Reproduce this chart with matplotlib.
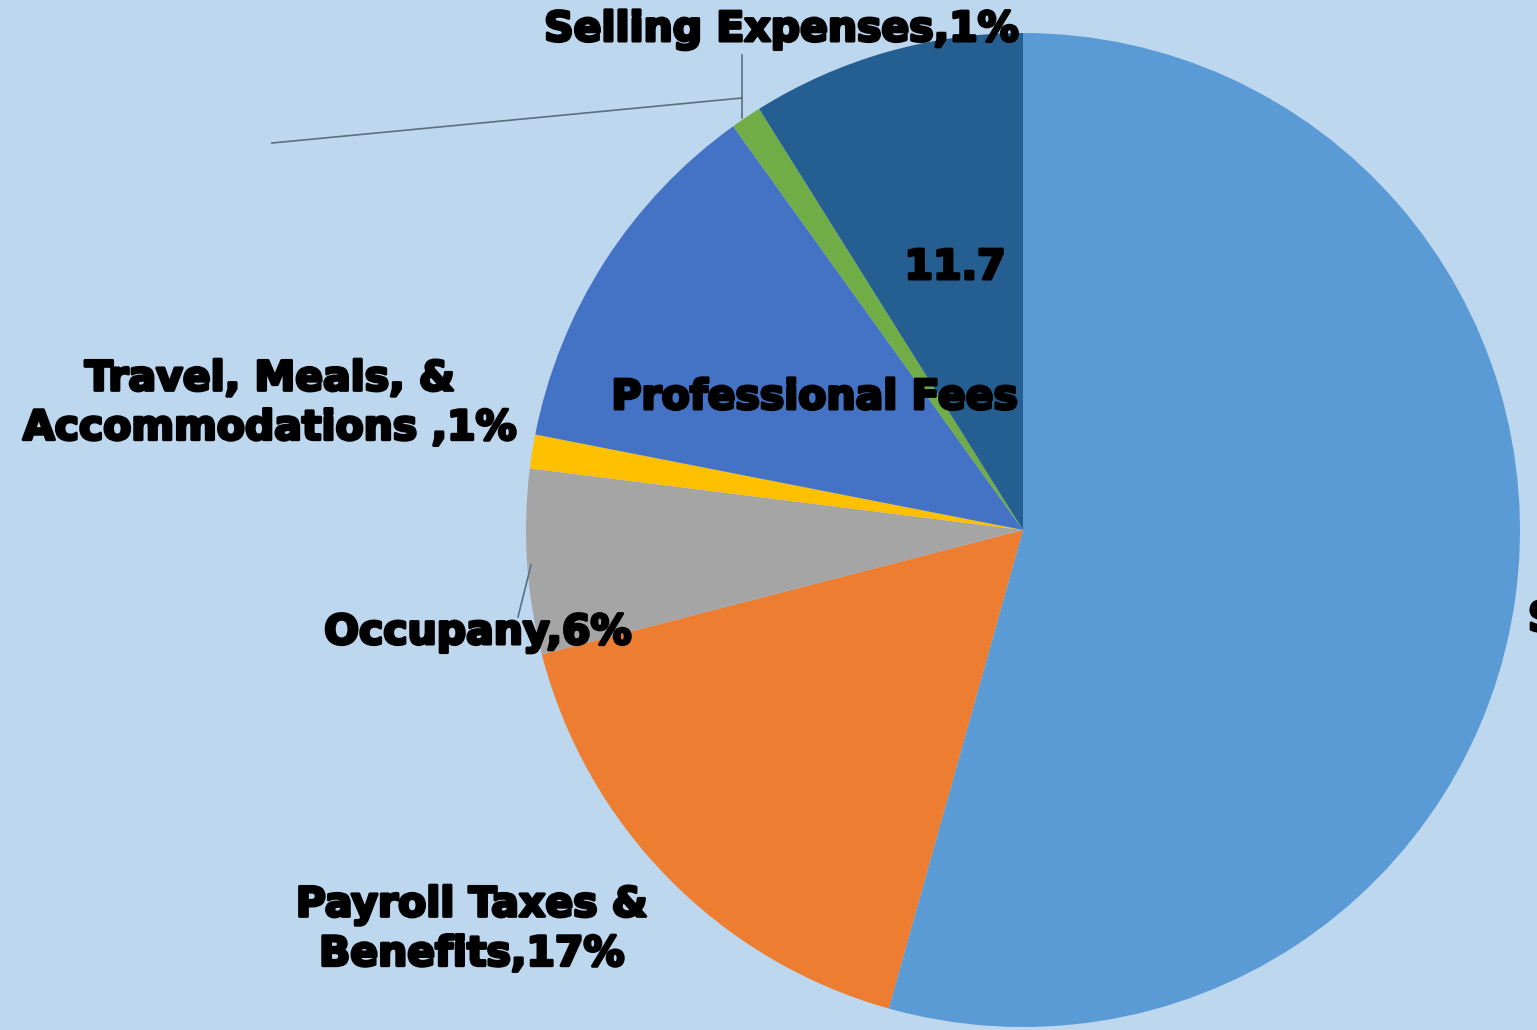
import matplotlib.pyplot as plt
import matplotlib.patheffects as pe

# Datos del gráfico (porcentaje de gastos)
categorias = ['Salaries', 'Payroll Taxes & Benefits', 'Occupany',
              'Travel, Meals, & Accommodations', 'Professional Fees',
              'Selling Expenses', 'Other']
valores = [54.3, 16.6, 6.0, 1.1, 12.0, 1.0, 8.9]
colores = ['#5B9BD5', '#ED7D31', '#A5A5A5', '#FFC000', '#4472C4', '#70AD47', '#255E91']

fondo = '#BDD7EE'

fig = plt.figure(figsize=(15.37, 10.3), dpi=100, facecolor=fondo)
ax = fig.add_axes([0, 0, 1, 1])
ax.set_facecolor(fondo)

ax.pie(valores, colors=colores, startangle=90, counterclock=False,
       center=(1023, 500), radius=497, frame=True,
       wedgeprops=dict(linewidth=0))
ax.set_xlim(0, 1537)
ax.set_ylim(0, 1030)
ax.axis('off')

grueso = [pe.withStroke(linewidth=2.2, foreground='black')]
estilo = dict(fontsize=29.5, fontweight='heavy', color='black',
              family='DejaVu Sans', ha='center', va='center',
              path_effects=grueso)

# Etiquetas
ax.text(782, 1000, 'Selling Expenses,1%', **estilo)
ax.text(955, 762, '11.7', **estilo)
ax.text(815, 632, 'Professional Fees', **estilo)
ax.text(270, 626, 'Travel, Meals, &\nAccommodations ,1%', linespacing=1.3, **estilo)
ax.text(478, 397, 'Occupany,6%', **estilo)
ax.text(472, 100, 'Payroll Taxes &\nBenefits,17%', linespacing=1.3, **estilo)
ax.text(1528, 410, 'Salaries,54%', fontsize=29.5, fontweight='heavy',
        family='DejaVu Sans', ha='left', va='center', clip_on=False,
        path_effects=grueso)

# Líneas guía
ax.plot([742, 742], [912, 975], color='#5a6f80', linewidth=1.2)
ax.plot([742, 272], [932, 887], color='#5a6f80', linewidth=1.2)
ax.plot([531, 518], [465, 413], color='#5a6f80', linewidth=1.2)

fig.savefig('out.png', dpi=100, facecolor=fondo)
